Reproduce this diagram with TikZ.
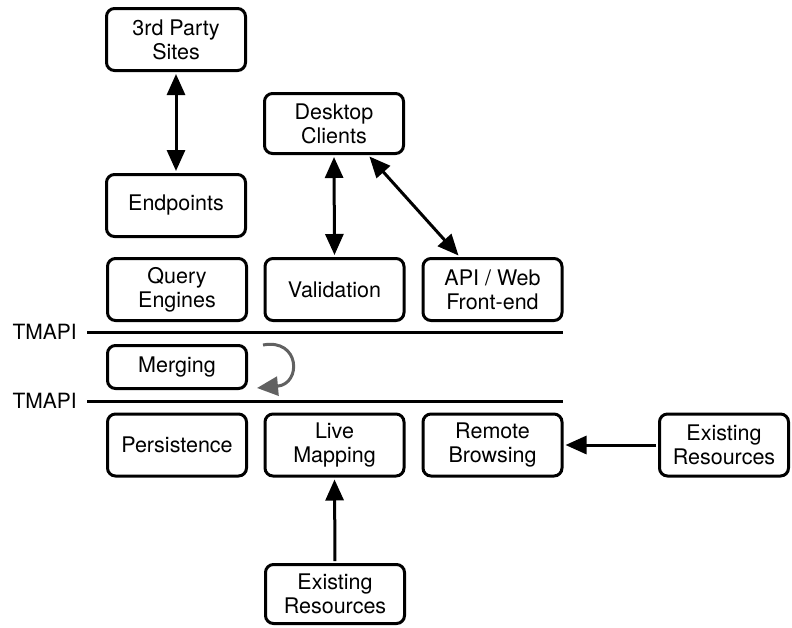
\documentclass[tikz,border=0pt]{standalone}
\usepackage{fontspec}
\setmainfont{TeX Gyre Heros}
\usetikzlibrary{arrows.meta,calc}
\begin{document}
\begin{tikzpicture}[x=1pt,y=-1pt,
  box/.style={draw, line width=3pt, rounded corners=8pt, minimum width=139pt, minimum height=62pt,
    align=center, inner sep=2pt, font=\fontsize{21.5}{24}\selectfont},
  lbl/.style={inner sep=0pt, anchor=east, font=\fontsize{21}{24}\selectfont},
  conn/.style={line width=3pt, shorten >=2pt, shorten <=2pt},
  biarrow/.style={conn, {Triangle[length=21pt,width=18pt]}-{Triangle[length=21pt,width=18pt]}},
  onearrow/.style={conn, -{Triangle[length=21pt,width=18pt]}},
  grayarrow/.style={line width=3pt, draw=black!62, -{Triangle[length=21pt,width=19pt,fill=black!62]}},
  api/.style={line width=3pt}
]
\useasboundingbox (0,0) rectangle (792,627);

\node[box] (p3) at (176,39.5) {3rd Party\\Sites};
\node[box] (ep) at (176,205.5) {Endpoints};
\node[box, minimum height=60pt] (dc) at (334,123.5) {Desktop\\Clients};
\node[box] (qe) at (177,289.5) {Query\\Engines};
\node[box] (val) at (334.5,289.5) {Validation};
\node[box] (apiw) at (492.5,289.5) {API / Web\\Front-end};
\node[box, minimum height=43pt] (mg) at (177,367) {Merging};
\node[box] (ps) at (177,445) {Persistence};
\node[box] (lm) at (334.5,445) {Live\\Mapping};
\node[box] (rb) at (492.5,445) {Remote\\Browsing};
\node[box, minimum width=129pt] (er) at (724,445) {Existing\\Resources};
\node[box, minimum height=59pt] (eb) at (335,594) {Existing\\Resources};

\node[lbl] (t1) at (77,332) {TMAPI};
\node[lbl] (t2) at (77,401) {TMAPI};
\coordinate (t1e) at (563,332);
\coordinate (t2e) at (563,401);
\draw[api] ([xshift=10pt]t1.east) -- (t1e);
\draw[api] ([xshift=10pt]t2.east) -- (t2e);

\draw[biarrow] (p3.south) -- (ep.north);
\draw[biarrow] (dc.south) -- (val.north);
\draw[biarrow] ($(dc.south)!0.48!(dc.south east)$) -- ($(apiw.north)!0.46!(apiw.north west)$);
\draw[onearrow] (eb.north) -- (lm.south);
\draw[onearrow] (er.west) -- (rb.east);

\coordinate (m1) at (263,345);
\coordinate (m2) at (257,388);
\draw[grayarrow] (m1) .. controls (300,338) and (302,384) .. (m2);
\end{tikzpicture}
\end{document}
